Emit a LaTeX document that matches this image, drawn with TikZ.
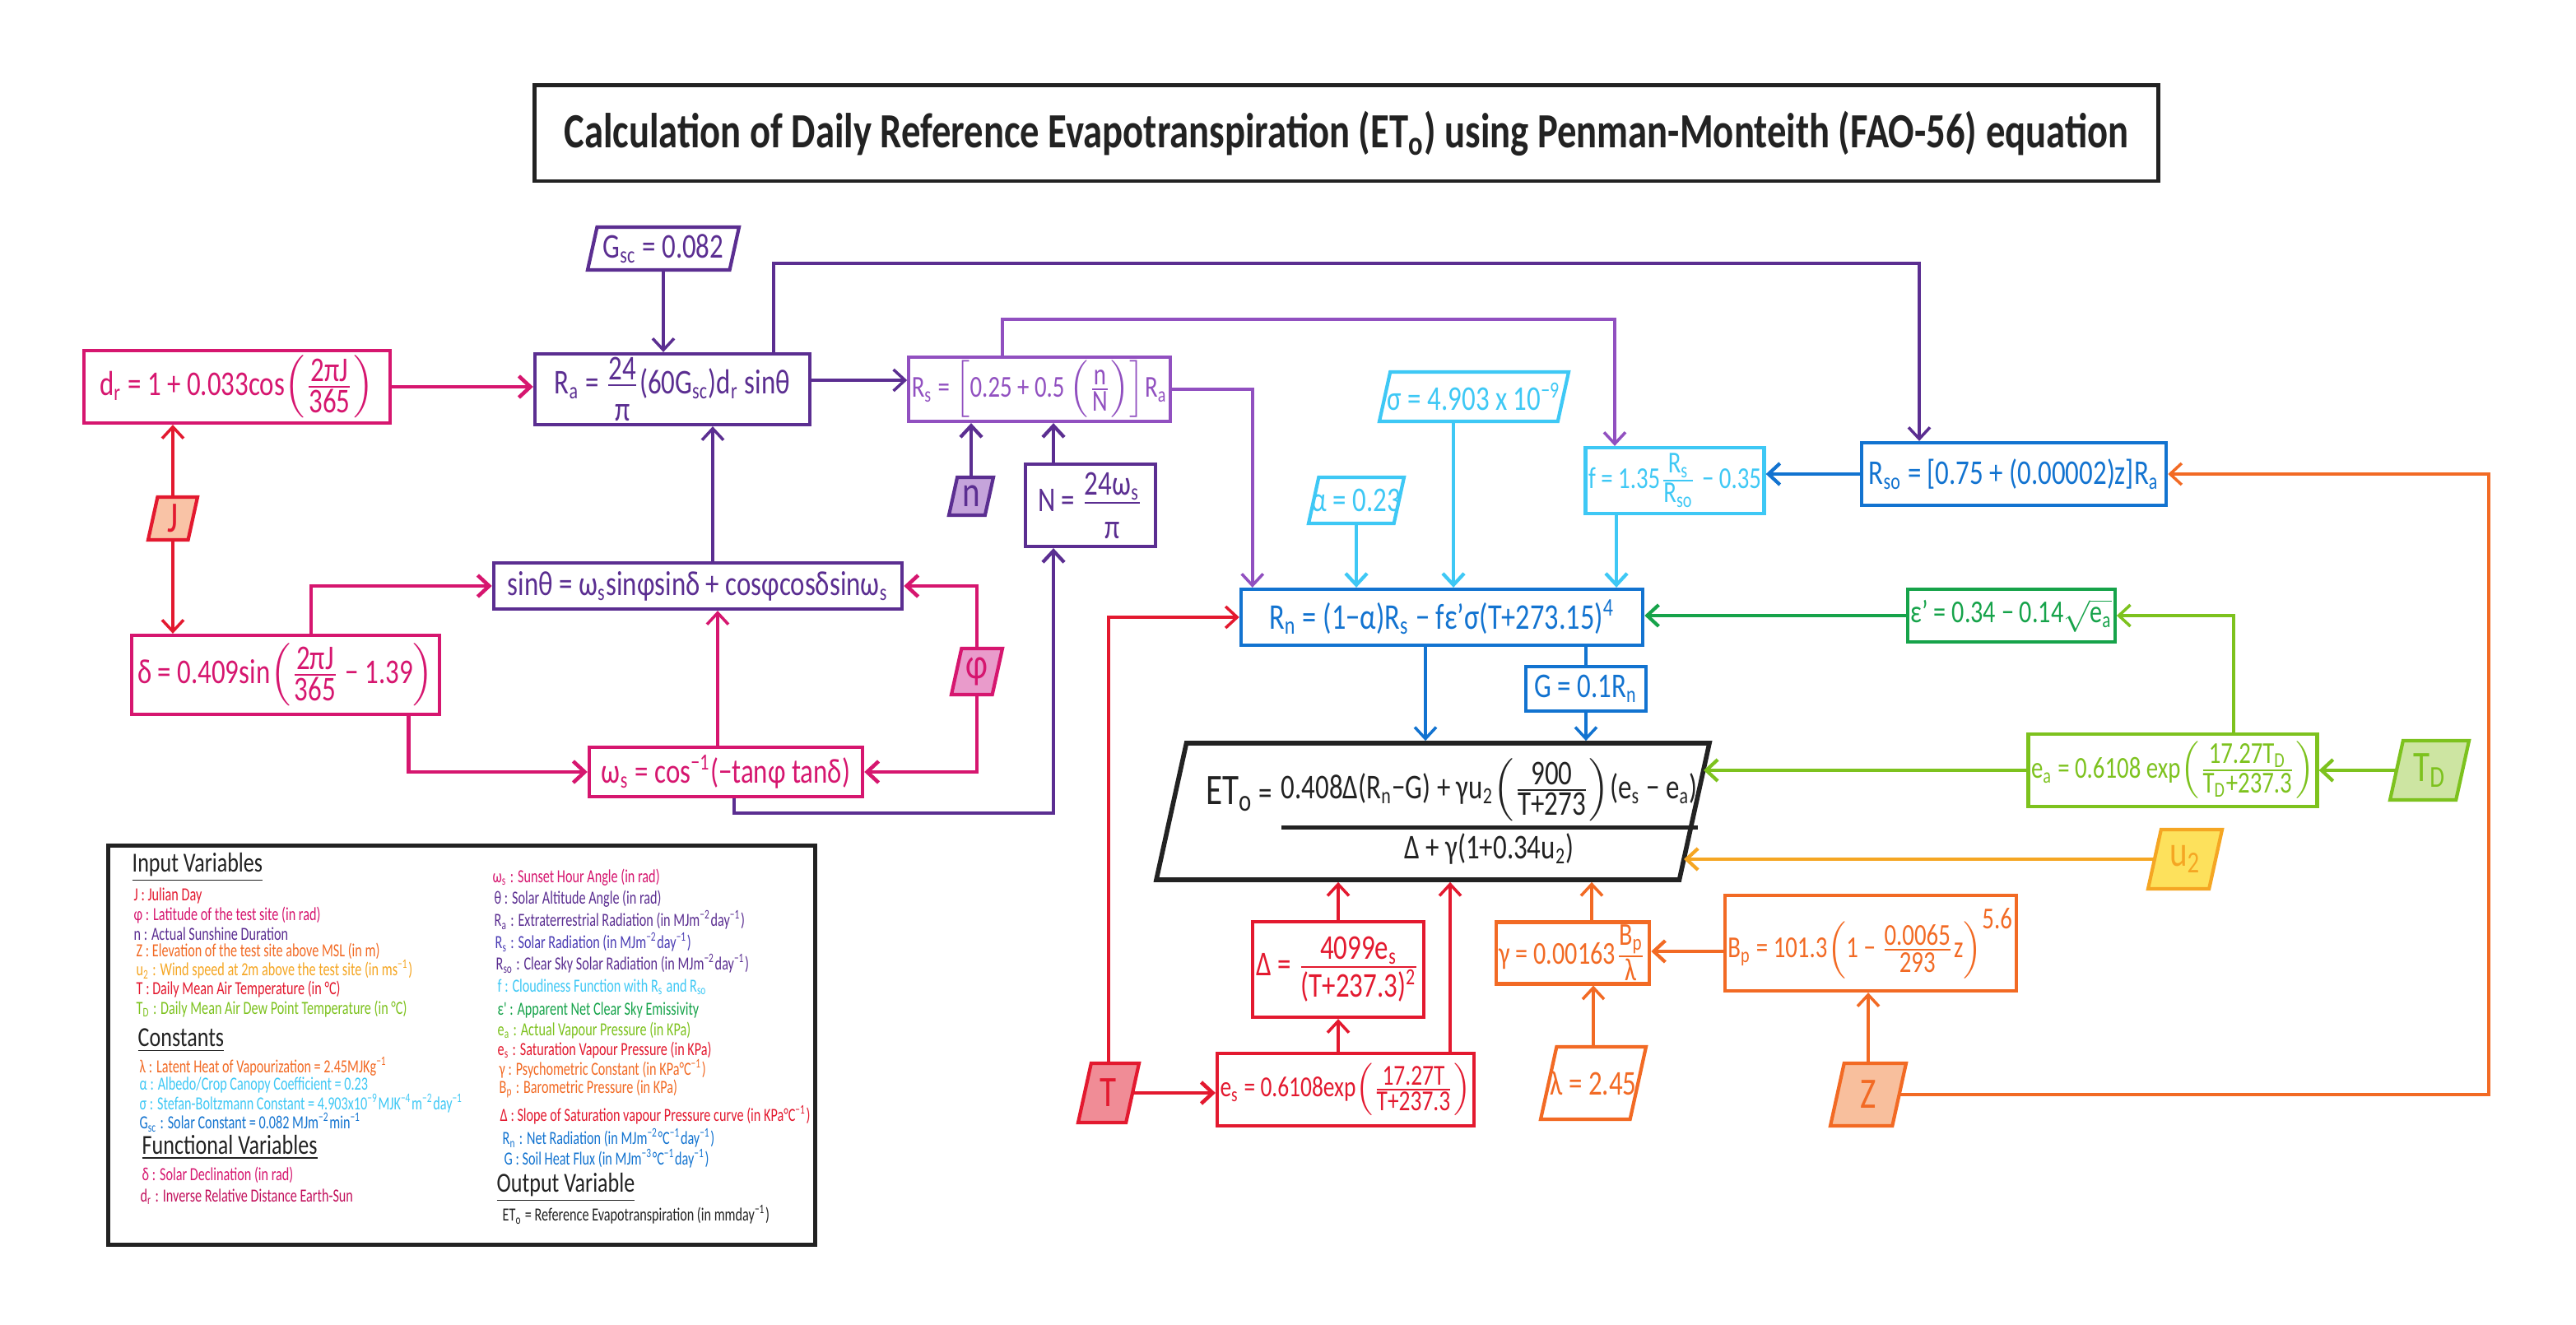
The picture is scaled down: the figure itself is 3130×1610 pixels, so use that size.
\documentclass[tikz,border=0pt]{standalone}
\usepackage{amsmath}
\usepackage{fontspec}
\setmainfont{Carlito}[FakeStretch=0.78]
\newfontfamily\legfont{Carlito}[FakeStretch=0.72]
\usetikzlibrary{arrows.meta,calc}
\definecolor{cmag}{HTML}{D6166F}
\definecolor{ccrim}{HTML}{C2105C}
\definecolor{cpur}{HTML}{5B2E91}
\definecolor{cvio}{HTML}{9150C0}
\definecolor{crs}{HTML}{4A3CB4}
\definecolor{cblue}{HTML}{1273D0}
\definecolor{csky}{HTML}{3EC8F5}
\definecolor{cgrn}{HTML}{16A34A}
\definecolor{clime}{HTML}{7DC21E}
\definecolor{cyel}{HTML}{F5A623}
\definecolor{cred}{HTML}{E3192F}
\definecolor{corg}{HTML}{F26A24}
\definecolor{cink}{HTML}{222222}
\definecolor{fJ}{HTML}{F9C3A6}
\definecolor{fphi}{HTML}{E99BCB}
\definecolor{fn}{HTML}{C5A4DB}
\definecolor{fT}{HTML}{F08C96}
\definecolor{fZ}{HTML}{F8BF9D}
\definecolor{fTD}{HTML}{CDE5A2}
\definecolor{fu}{HTML}{FDE15C}
\newcommand\sbs[1]{\textsubscript{#1}}
\newcommand\sps[1]{\textsuperscript{#1}}
\newcommand\fr[2]{$\genfrac{}{}{0.6pt}{}{\hbox{#1}}{\hbox{#2}}$}
\newcommand\frp[2]{$\genfrac{}{}{0.6pt}{}{\hbox{#1}}{\hbox{\rule{0pt}{0.95em}#2}}$}
\newcommand\pfr[2]{$\left(\genfrac{}{}{0.6pt}{}{\hbox{#1}}{\hbox{#2}}\right)$}
\newcommand\eqf{\fontsize{12}{14}\selectfont}
\newcommand\smf{\fontsize{11}{13}\selectfont}
\newcommand\xsf{\fontsize{10.5}{12.5}\selectfont}
\newcommand\varf{\fontsize{15}{17}\selectfont}
\newcommand\legf{\legfont\fontsize{6.4}{7.5}\selectfont}
\newcommand\headf{\fontsize{9.5}{11}\selectfont}
\tikzset{
  box/.style={draw, line width=1.2pt, inner sep=1pt, align=center, font=\eqf},
  pgb/.style={line width=1.2pt},
  pgn/.style={inner sep=0pt, font=\eqf},
  con/.style={line width=1pt},
  arr/.style={con, -{Straight Barb[length=1.4mm,width=2.6mm]}},
  leg/.style={anchor=west, inner sep=0pt, font=\legf},
  legh/.style={anchor=west, inner sep=0pt, font=\headf, text=cink},
}
\newcommand\pgram[7]{%
  \pgfmathsetmacro\pgs{0.22*#5}%
  \pgfmathsetmacro\pgw{0.28453*(#4-\pgs)}%
  \pgfmathsetmacro\pgh{0.28453*#5}%
  \path[pgb,#6] ({#2-#4/2},{#3+#5/2}) -- ({#2+#4/2-\pgs},{#3+#5/2}) -- ({#2+#4/2},{#3-#5/2}) -- ({#2-#4/2+\pgs},{#3-#5/2}) -- cycle;
  \node[pgn,#6,draw=none,fill=none,minimum width=\pgw pt,minimum height=\pgh pt] (#1) at (#2,#3) {#7};}
\begin{document}
\begin{tikzpicture}[x=0.01cm,y=-0.01cm]
\useasboundingbox (0,0) rectangle (3130,1610);
\fill[white] (0,0) rectangle (3130,1610);

% title
\node[draw=cink, line width=1.4pt, minimum width=19.72cm, minimum height=1.16cm, font=\fontsize{17}{20}\selectfont\bfseries, text=cink] (title) at (1636,162)
  {Calculation of Daily Reference Evapotranspiration (ET\sbs{o}) using Penman-Monteith (FAO-56) equation};

% boxes
\pgram{Gsc}{806}{302}{184}{52}{draw=cpur,fill=white,text=cpur}{G\sbs{sc} = 0.082}
\node[box, draw=cmag, text=cmag, minimum width=3.72cm, minimum height=0.88cm] (dr) at (288,470) {d\sbs{r} = 1 + 0.033cos\pfr{2πJ}{365}};
\node[box, draw=cpur, text=cpur, minimum width=3.34cm, minimum height=0.86cm] (Ra) at (817,473) {R\sbs{a} = \frp{24}{π}(60G\sbs{sc})d\sbs{r} sinθ};
\node[box, draw=cvio, text=cvio, minimum width=3.06cm, minimum height=0.78cm, font=\fontsize{10.5}{12.5}\selectfont] (Rs) at (1263,473) {R\sbs{s} = $\left[\hbox{0.25 + 0.5}\left(\genfrac{}{}{0.6pt}{}{\hbox{n}}{\hbox{N}}\right)\right]$R\sbs{a}};
\pgram{sigma}{1791}{482}{230}{60}{draw=csky,fill=white,text=csky}{σ = 4.903 x 10\sps{−9}}
\pgram{alpha}{1648}{608}{116}{56}{draw=csky,fill=white,text=csky}{α = 0.23}
\node[box, draw=csky, text=csky, minimum width=2.10cm, minimum height=0.80cm, font=\xsf] (f) at (2035,584) {f = 1.35\fr{R\sbs{s}}{R\sbs{so}} − 0.35};
\node[box, draw=cblue, text=cblue, minimum width=3.70cm, minimum height=0.76cm] (Rso) at (2447,576) {R\sbs{so} = [0.75 + (0.00002)z]R\sbs{a}};
\pgram{n}{1180}{603}{54}{46}{draw=cpur,fill=fn,text=cpur,font=\varf}{n}
\node[box, draw=cpur, text=cpur, minimum width=1.58cm, minimum height=1.00cm] (N) at (1325,614) {N = \frp{24ω\sbs{s}}{π}};
\pgram{J}{210}{630}{60}{52}{draw=cred,fill=fJ,text=cred,font=\varf}{J}
\node[box, draw=cpur, text=cpur, minimum width=4.96cm, minimum height=0.56cm] (sin) at (848,712) {sinθ = ω\sbs{s}sinφsinδ + cosφcosδsinω\sbs{s}};
\node[box, draw=cblue, text=cblue, minimum width=4.88cm, minimum height=0.68cm, font=\fontsize{12.5}{14}\selectfont] (Rn) at (1752,750) {R\sbs{n} = (1−α)R\sbs{s} − fε'σ(T+273.15)\sps{4}};
\node[box, draw=cgrn, text=cgrn, minimum width=2.32cm, minimum height=0.64cm, font=\smf] (eps) at (2444,748) {ε' = 0.34 − 0.14$\sqrt{\hbox{e\sbs{a}}}$};
\node[box, draw=cmag, text=cmag, minimum width=3.74cm, minimum height=0.96cm] (delta) at (347,820) {δ = 0.409sin$\left(\genfrac{}{}{0.6pt}{}{\hbox{2πJ}}{\hbox{365}}\hbox{ − 1.39}\right)$};
\pgram{phi}{1187}{816}{62}{56}{draw=cmag,fill=fphi,text=cmag,font=\varf}{φ}
\node[box, draw=cblue, text=cblue, minimum width=1.46cm, minimum height=0.54cm] (G) at (1927,837) {G = 0.1R\sbs{n}};
\node[box, draw=cmag, text=cmag, minimum width=3.32cm, minimum height=0.60cm] (omega) at (882,938) {ω\sbs{s} = cos\sps{−1}(−tanφ tanδ)};
\pgram{ET0}{1741}{986}{672}{166}{draw=cink,fill=white,text=cink,line width=1.6pt,font=\fontsize{12}{14}\selectfont}{\hspace*{0.5cm}\raisebox{0.9em}{\fontsize{15}{17}\selectfont ET\sbs{o}}\,\raisebox{0.9em}{=}\,$\genfrac{}{}{1.4pt}{}{\hbox{0.408Δ(R\sbs{n}−G) + γu\sbs{2}\pfr{900}{T+273}(e\sbs{s} − e\sbs{a})}}{\hbox{Δ + γ(1+0.34u\sbs{2})}}$}
\node[box, draw=clime, text=clime, minimum width=2.88cm, minimum height=0.88cm, font=\xsf] (ea) at (2640,936) {e\sbs{a} = 0.6108 exp\pfr{17.27T\sbs{D}}{T\sbs{D}+237.3}};
\pgram{TD}{2952}{936}{96}{72}{draw=clime,fill=fTD,text=clime,font=\varf}{T\sbs{D}}
\pgram{u2}{2655}{1044}{90}{72}{draw=cyel,fill=fu,text=cyel,font=\varf}{u\sbs{2}}
\node[box, draw=cred, text=cred, minimum width=2.08cm, minimum height=1.16cm] (Delta) at (1626,1178) {Δ = \fr{4099e\sbs{s}}{(T+237.3)\sps{2}}};
\node[box, draw=corg, text=corg, minimum width=1.86cm, minimum height=0.68cm, font=\smf] (gamma) at (1911,1158) {γ = 0.00163\fr{B\sbs{p}}{λ}};
\node[box, draw=corg, text=corg, minimum width=3.38cm, minimum height=1.16cm, font=\fontsize{10.5}{12.5}\selectfont] (Bp) at (2273,1146) {B\sbs{p} = 101.3$\left(\hbox{1 − }\genfrac{}{}{0.6pt}{}{\hbox{0.0065}}{\hbox{293}}\hbox{z}\right)^{\hbox{5.6}}$};
\pgram{T}{1347}{1328}{74}{72}{draw=cred,fill=fT,text=cred,font=\varf}{T}
\node[box, draw=cred, text=cred, minimum width=2.90cm, minimum height=0.88cm, font=\fontsize{10}{12}\selectfont] (es) at (1635,1324) {e\sbs{s} = 0.6108exp\pfr{17.27T}{T+237.3}};
\pgram{lambda}{1936}{1316}{128}{88}{draw=corg,fill=white,text=corg}{λ = 2.45}
\pgram{Z}{2270}{1330}{92}{76}{draw=corg,fill=fZ,text=corg,font=\varf}{Z}

% connector helper points
\coordinate (ETin1) at (2070,936);
\coordinate (ETin2) at (2046,1044);
\path (omega.north) ++(-10,0) coordinate (q1);
\path (sin.north) ++(18,0) coordinate (q2);
\path (Ra.east) ++(0,-11) coordinate (q3);
\path (N.north) ++(-45,0) coordinate (q4);
\path (sigma.south) ++(-25,0) coordinate (q5);
\path (f.south) ++(-71,0) coordinate (q6);
\path (Rn.south) ++(-20,0) coordinate (q7);
\path (es.north) ++(127,0) coordinate (q8);
\path (gamma.north) ++(23,0) coordinate (q9);
\path (Bp.west) ++(0,10) coordinate (q10);

% connectors
\draw[arr, cpur] (Gsc.south) -- (Gsc.south |- Ra.north);
\draw[arr, cmag, line width=1.3pt] (dr.east) -- (dr.east -| Ra.west);
\draw[arr, cred] (J.north) -- (J.north |- dr.south);
\draw[arr, cred] (J.south) -- (J.south |- delta.north);
\draw[arr, cmag, line width=1.3pt] ($(delta.north west)+(220,0)$) |- (sin.west);
\draw[arr, cmag, line width=1.3pt] ($(delta.south east)+(-40,0)$) |- (omega.west);
\draw[arr, cmag, line width=1.3pt] (phi.north) |- (sin.east);
\draw[arr, cmag, line width=1.3pt] (phi.south) |- (omega.east);
\draw[arr, cmag] (q1) -- (q1 |- sin.south);
\draw[arr, cpur] (q2) -- (q2 |- Ra.south);
\draw[arr, cpur, line width=1.2pt] ($(omega.south)+(10,0)$) -- ++(0,18) -| ($(N.south)+(-45,0)$);
\draw[arr, cpur] (q3) -- (q3 -| Rs.west);
\draw[arr, cpur] ($(Ra.north)+(123,0)$) -- ++(0,-108) -| ($(Rso.north)+(-115,0)$);
\draw[arr, cpur, line width=1.2pt] (n.north) -- (n.north |- Rs.south);
\draw[arr, cpur, line width=1.2pt] (q4) -- (q4 |- Rs.south);
\draw[arr, cvio] ($(Rs.north)+(-45,0)$) -- ++(0,-44) -| ($(f.north)+(-73,0)$);
\draw[arr, cvio] (Rs.east) -| ($(Rn.north west)+(16,0)$);
\draw[arr, cblue, line width=1.2pt] (Rso.west) -- (Rso.west -| f.east);
\draw[arr, csky, line width=1.2pt] (q5) -- (q5 |- Rn.north);
\draw[arr, csky, line width=1.2pt] (alpha.south) -- (alpha.south |- Rn.north);
\draw[arr, csky, line width=1.2pt] (q6) -- (q6 |- Rn.north);
\draw[arr, cred] (T.north) |- (Rn.west);
\draw[arr, cgrn, line width=1.2pt] (eps.west) -- (eps.west -| Rn.east);
\draw[arr, clime] ($(ea.north)+(74,0)$) |- (eps.east);
\draw[arr, clime, line width=1.2pt] (TD.west) -- (TD.west -| ea.east);
\draw[arr, clime, line width=1.2pt] (ea.west) -- (ETin1);
\draw[arr, cyel, line width=1.2pt] (u2.west) -- (ETin2);
\draw[arr, cblue] (q7) -- (q7 |- ET0.north);
\draw[con, cblue] (G.north |- Rn.south) -- (G.north);
\draw[arr, cblue] (G.south) -- (G.south |- ET0.north);
\draw[arr, cred] (Delta.north) -- (Delta.north |- ET0.south);
\draw[arr, cred] (es.north -| Delta.south) -- (Delta.south);
\draw[arr, cred] (q8) -- (q8 |- ET0.south);
\draw[arr, corg] (q9) -- (q9 |- ET0.south);
\draw[arr, corg] (lambda.north) -- (lambda.north |- gamma.south);
\draw[arr, corg, line width=1.2pt] (q10) -- (q10 -| gamma.east);
\draw[arr, corg] (Z.north) -- (Z.north |- Bp.south);
\draw[arr, corg] (Z.east) -| ($(Rso.east)+(390,0)$) -- (Rso.east);
\draw[arr, cred, line width=1.3pt] (T.east) -- (T.east -| es.west);

% legend
\node[draw=cink, line width=1.4pt, minimum width=8.58cm, minimum height=4.84cm] (legend) at (561,1270) {};
\node[legh] (h1) at (160,1054) {\underline{Input Variables}};
\node[leg,text=cred] (l1) at (162,1088) {J : Julian Day};
\node[leg,text=cmag] (l2) at (162,1112) {φ : Latitude of the test site (in rad)};
\node[leg,text=cpur] (l3) at (162,1135) {n : Actual Sunshine Duration};
\node[leg,text=corg] (l4) at (165,1156) {Z : Elevation of the test site above MSL (in m)};
\node[leg,text=cyel] (l5) at (165,1178) {u\sbs{2} : Wind speed at 2m above the test site (in ms\sps{−1})};
\node[leg,text=cred] (l6) at (165,1202) {T : Daily Mean Air Temperature (in °C)};
\node[leg,text=clime] (l7) at (165,1226) {T\sbs{D} : Daily Mean Air Dew Point Temperature (in °C)};
\node[legh] (h2) at (167,1264) {\underline{Constants}};
\node[leg,text=corg] (l8) at (169,1296) {λ : Latent Heat of Vapourization = 2.45MJKg\sps{−1}};
\node[leg,text=csky] (l9) at (169,1318) {α : Albedo/Crop Canopy Coefficient = 0.23};
\node[leg,text=csky] (l10) at (169,1341) {σ : Stefan-Boltzmann Constant = 4.903x10\sps{−9}MJK\sps{−4}m\sps{−2}day\sps{−1}};
\node[leg,text=cblue] (l11) at (169,1364) {G\sbs{sc} : Solar Constant = 0.082 MJm\sps{−2}min\sps{−1}};
\node[legh] (h3) at (172,1394) {\underline{Functional Variables}};
\node[leg,text=cmag] (l12) at (172,1428) {δ : Solar Declination (in rad)};
\node[leg,text=ccrim] (l13) at (170,1454) {d\sbs{r} : Inverse Relative Distance Earth-Sun};

\node[leg,text=cmag] (r1) at (598,1066) {ω\sbs{s} : Sunset Hour Angle (in rad)};
\node[leg,text=cpur] (r2) at (600,1092) {θ : Solar Altitude Angle (in rad)};
\node[leg,text=cpur] (r3) at (600,1118) {R\sbs{a} : Extraterrestrial Radiation (in MJm\sps{−2}day\sps{−1})};
\node[leg,text=crs] (r4) at (601,1145) {R\sbs{s} : Solar Radiation (in MJm\sps{−2}day\sps{−1})};
\node[leg,text=cpur] (r5) at (602,1171) {R\sbs{so} : Clear Sky Solar Radiation (in MJm\sps{−2}day\sps{−1})};
\node[leg,text=csky] (r6) at (604,1199) {f : Cloudiness Function with R\sbs{s} and R\sbs{so}};
\node[leg,text=cgrn] (r7) at (604,1227) {ε' : Apparent Net Clear Sky Emissivity};
\node[leg,text=clime] (r8) at (604,1252) {e\sbs{a} : Actual Vapour Pressure (in KPa)};
\node[leg,text=cred] (r9) at (604,1276) {e\sbs{s} : Saturation Vapour Pressure (in KPa)};
\node[leg,text=corg] (r10) at (606,1299) {γ : Psychometric Constant (in KPa°C\sps{−1})};
\node[leg,text=corg] (r11) at (606,1323) {B\sbs{p} : Barometric Pressure (in KPa)};
\node[leg,text=cred] (r12) at (607,1355) {Δ : Slope of Saturation vapour Pressure curve (in KPa°C\sps{−1})};
\node[leg,text=cblue] (r13) at (610,1383) {R\sbs{n} : Net Radiation (in MJm\sps{−2}°C\sps{−1}day\sps{−1})};
\node[leg,text=cblue] (r14) at (612,1408) {G : Soil Heat Flux (in MJm\sps{−3}°C\sps{−1}day\sps{−1})};
\node[legh] (h4) at (603,1443) {\underline{Output Variable}};
\node[leg,text=cink] (r15) at (610,1476) {ET\sbs{o} = Reference Evapotranspiration (in mmday\sps{−1})};
\end{tikzpicture}
\end{document}
